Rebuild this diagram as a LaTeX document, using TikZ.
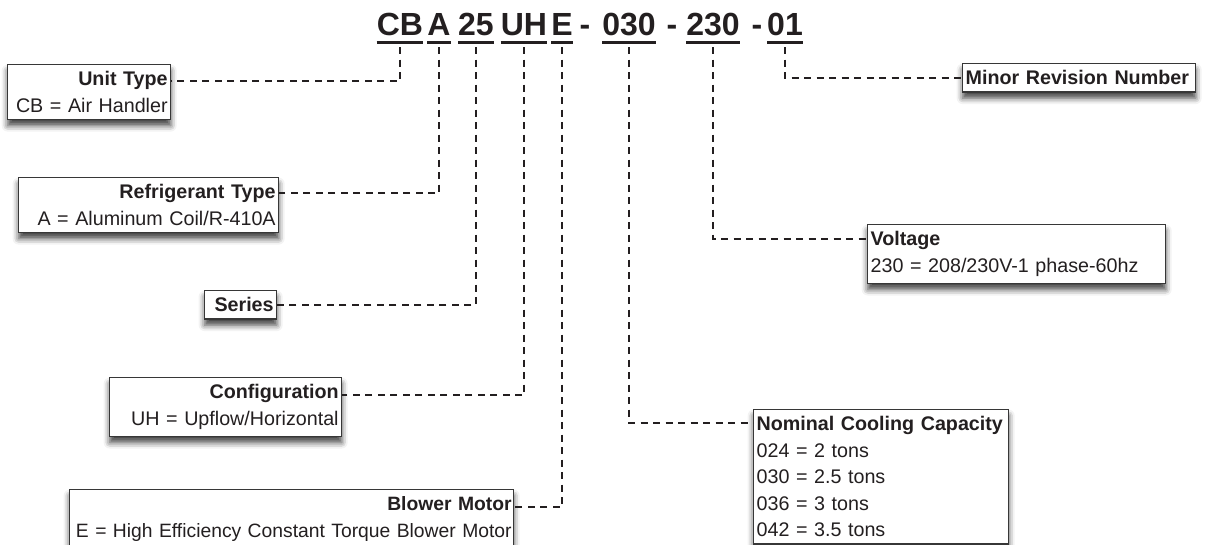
\documentclass[tikz,border=0pt]{standalone}
\usepackage{fontspec}
\setmainfont{Liberation Sans}
\usepackage{xcolor}
\usepackage{tikz}
\usetikzlibrary{positioning, shadows.blur, calc}
\definecolor{inkGray}{RGB}{35,31,32}
\definecolor{boxGray}{RGB}{55,55,55}

\begin{document}
\begin{tikzpicture}[
    x=1pt, y=-1pt,
    codepart/.style={anchor=base, inner sep=0pt, text=inkGray, font=\fontsize{32}{32}\selectfont\bfseries},
    uline/.style={draw=inkGray, line width=3pt},
    infobox/.style={rectangle, draw=boxGray, line width=1.3pt, fill=white, anchor=north west, inner xsep=3pt, inner ysep=7pt, text=inkGray, font=\fontsize{19.7}{26.5}\selectfont,
        blur shadow={shadow xshift=0pt, shadow yshift=-6pt, shadow blur radius=6pt, shadow opacity=75}},
    leader/.style={draw=inkGray, line width=2.5pt, dash pattern=on 7pt off 5.5pt}
]
\useasboundingbox (0,0) rectangle (1208,544);

% Model number
\node[codepart] (cb) at (400,35) {CB};
\node[codepart] (ref) at (439,35) {A};
\node[codepart] (ser) at (476,35) {25};
\node[codepart] (cfg) at (524,35) {UH};
\node[codepart] (mot) at (562,35) {E};
\node[codepart] (d1) at (585,35) {-};
\node[codepart] (cap) at (629,35) {030};
\node[codepart] (d2) at (672,35) {-};
\node[codepart] (volt) at (713,35) {230};
\node[codepart] (d3) at (757,35) {-};
\node[codepart] (rev) at (785,35) {01};
\foreach \p in {cb,ref,ser,cfg,mot,cap,volt,rev}
    \draw[uline] ([yshift=-7pt]\p.base west) -- ([yshift=-7pt]\p.base east);

% Boxes
\node[infobox, text width=157pt, align=right] (unitbox) at (7,64) {\textbf{Unit Type}\\CB = Air Handler};
\node[infobox, text width=254pt, align=right] (refbox) at (18,177) {\textbf{Refrigerant Type}\\A = Aluminum Coil/R-410A};
\node[infobox, text width=66pt, align=right] (serbox) at (204,290) {\textbf{Series}};
\node[infobox, text width=226pt, align=right] (cfgbox) at (109,377) {\textbf{Configuration}\\UH = Upflow/Horizontal};
\node[infobox, inner xsep=2pt, text width=440pt, align=right, font=\fontsize{19.3}{26.5}\selectfont] (motbox) at (69,489) {\textbf{Blower Motor}\\\mbox{E = High Efficiency Constant Torque Blower Motor}};
\node[infobox, text width=292pt, align=left] (voltbox) at (867,224) {\textbf{Voltage}\\230 = 208/230V-1 phase-60hz};
\node[infobox, text width=249pt, align=left] (capbox) at (753,409) {\textbf{Nominal Cooling Capacity}\\024 = 2 tons\\030 = 2.5 tons\\036 = 3 tons\\042 = 3.5 tons};
\node[infobox, text width=227pt, align=left] (revbox) at (962,63) {\textbf{Minor Revision Number}};

% Leaders
\draw[leader] ([yshift=-12pt]cb.base) |- ([yshift=-17pt]unitbox.north east);
\draw[leader] ([yshift=-12pt]ref.base) |- ([yshift=-16pt]refbox.north east);
\draw[leader] ([yshift=-12pt]ser.base) |- (serbox.east);
\draw[leader] ([yshift=-12pt]cfg.base) |- ([yshift=-18pt]cfgbox.north east);
\draw[leader] ([yshift=-12pt]mot.base) |- ([yshift=-18pt]motbox.north east);
\draw[leader] ([yshift=-12pt]cap.base) |- ([yshift=-14pt]capbox.north west);
\draw[leader] ([yshift=-12pt]volt.base) |- ([yshift=-15pt]voltbox.north west);
\draw[leader] ([yshift=-12pt]rev.base) |- (revbox.west);
\end{tikzpicture}
\end{document}
